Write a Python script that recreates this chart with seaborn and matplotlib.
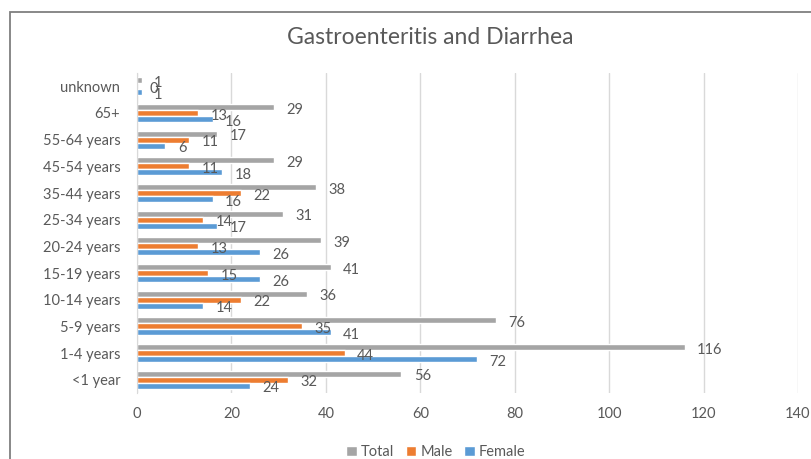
import numpy as np
import pandas as pd
import seaborn as sns
import matplotlib.pyplot as plt
from matplotlib.patches import Rectangle

age_groups = ['unknown', '65+', '55-64 years', '45-54 years', '35-44 years', '25-34 years',
              '20-24 years', '15-19 years', '10-14 years', '5-9 years', '1-4 years', '<1 year']
total = [1, 29, 17, 29, 38, 31, 39, 41, 36, 76, 116, 56]
male = [0, 13, 11, 11, 22, 14, 13, 15, 22, 35, 44, 32]
female = [1, 16, 6, 18, 16, 17, 26, 26, 14, 41, 72, 24]
series = ['Total', 'Male', 'Female']
colors = ['#A5A5A5', '#ED7D31', '#5B9BD5']

df = pd.DataFrame({
    'age': age_groups * 3,
    'count': total + male + female,
    'series': [s for s in series for _ in age_groups],
})

sns.set_style('white')
plt.rcParams['font.family'] = ['Lato', 'DejaVu Sans']
text_col = '#595959'

fig = plt.figure(figsize=(8.11, 4.59), dpi=100)
ax = fig.add_axes([137 / 811, 1 - 393 / 459, (798 - 137) / 811, (393 - 73) / 459])

sns.barplot(data=df, y='age', x='count', hue='series', order=age_groups,
            hue_order=series, palette=colors, orient='h', width=0.68,
            saturation=1, ax=ax, legend=True)

# data labels, nudged a little below the bar centre like the original
for cont in ax.containers:
    anns = ax.bar_label(cont, padding=9, color=text_col, fontsize=10.5)
    for a in anns:
        a.xyann = (a.xyann[0], -2)

ax.set_xlim(0, 140)
ax.set_xticks(np.arange(0, 141, 20))
ax.set_ylim(len(age_groups) - 0.5, -0.5)
ax.xaxis.grid(True, color='#D9D9D9', linewidth=1)
ax.set_axisbelow(True)
ax.set_xlabel('')
ax.set_ylabel('')
for s in ['top', 'right', 'bottom']:
    ax.spines[s].set_visible(False)
ax.spines['left'].set_color('#D9D9D9')
ax.tick_params(axis='x', length=0, labelsize=10.5, labelcolor=text_col, pad=10)
ax.tick_params(axis='y', length=0, labelsize=10.5, labelcolor=text_col, pad=12)
ax.set_yticks(np.arange(-0.5, len(age_groups)), minor=True)
ax.tick_params(axis='y', which='minor', length=5, color='#D9D9D9')

handles, labels = ax.get_legend_handles_labels()
ax.get_legend().remove()
fig.legend(handles, labels, loc='center', bbox_to_anchor=(436 / 811, 1 - 452 / 459),
           ncol=3, frameon=False, fontsize=10.5, labelcolor=text_col,
           handlelength=0.7, handleheight=0.7, handletextpad=0.3, columnspacing=0.8)

fig.text(430 / 811, 1 - 37 / 459, 'Gastroenteritis and Diarrhea', ha='center', va='center',
         fontsize=16.5, color=text_col)

fig.patches.append(Rectangle((10 / 811, -0.2), 1.2, 1.2 - 12 / 459, transform=fig.transFigure,
                             fill=False, edgecolor='#7F7F7F', linewidth=1.3))

fig.savefig('out.png', dpi=100)
